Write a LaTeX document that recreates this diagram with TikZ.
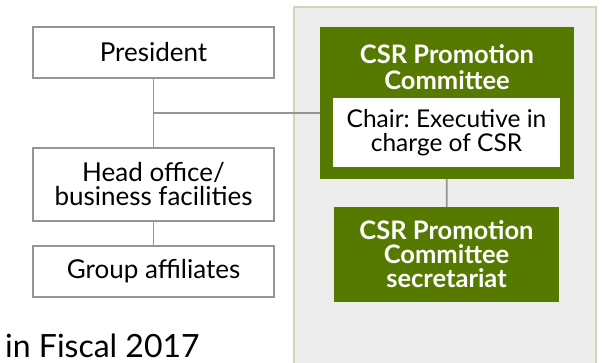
\documentclass[tikz,border=0pt]{standalone}
\usepackage{fontspec}
\setmainfont{Lato}
\usepackage{xcolor}
\usepackage{tikz}
\usetikzlibrary{positioning, calc}

\definecolor{csrgreen}{HTML}{567A00}
\definecolor{panelfill}{HTML}{EDEDED}
\definecolor{panelline}{HTML}{CDD9B4}
\definecolor{linkgray}{HTML}{959595}

\begin{document}
\begin{tikzpicture}[x=1pt, y=-1pt,
  orgbox/.style={draw=linkgray, line width=1.5pt, fill=white, minimum width=241pt, inner sep=0pt, align=center, font=\fontsize{26}{24}\selectfont},
  greenbox/.style={fill=csrgreen, text=white, inner sep=0pt, align=center, font=\fontsize{25.5}{24}\selectfont\bfseries},
  link/.style={draw=linkgray, line width=1.8pt}]
\useasboundingbox (0,0) rectangle (605,363);
% Committee panel
\filldraw[fill=panelfill, draw=panelline, line width=2.5pt] (294,7) rectangle (596,380);
% Company side
\node[orgbox, minimum height=51pt] (president) at (153.5,52.5) {President};
\node[orgbox, minimum height=73pt] (head) at (153.5,184.5) {Head office/\\business facilities};
\node[orgbox, minimum height=51pt] (group) at (153.5,271.5) {Group affiliates};
\coordinate (junction) at (153.5,113);
% CSR side
\node[greenbox, minimum width=254pt, minimum height=152pt] (committee) at (447,103) {};
\node[text=white, inner sep=0pt, font=\fontsize{25.5}{26}\selectfont\bfseries, align=center] (title) at (447,67) {CSR Promotion\\Committee};
\node[fill=white, minimum width=227pt, minimum height=69pt, inner sep=0pt, align=center, font=\fontsize{24.5}{24}\selectfont] (chair) at (446.5,132.5) {Chair:\ Executive in\\charge of CSR};
\node[greenbox, minimum width=225pt, minimum height=95pt] (secretariat) at (446.5,254.5) {CSR Promotion\\Committee\\secretariat};
% Links
\draw[link] (president) -- (head);
\draw[link] (head) -- (group);
\draw[link] (junction) -- (junction -| committee.west);
\draw[link] (committee) -- (secretariat);
% Caption
\node[anchor=base west, inner sep=0pt, font=\fontsize{32}{34}\selectfont] (fiscal) at (5,357) {in Fiscal 2017};
\end{tikzpicture}
\end{document}
